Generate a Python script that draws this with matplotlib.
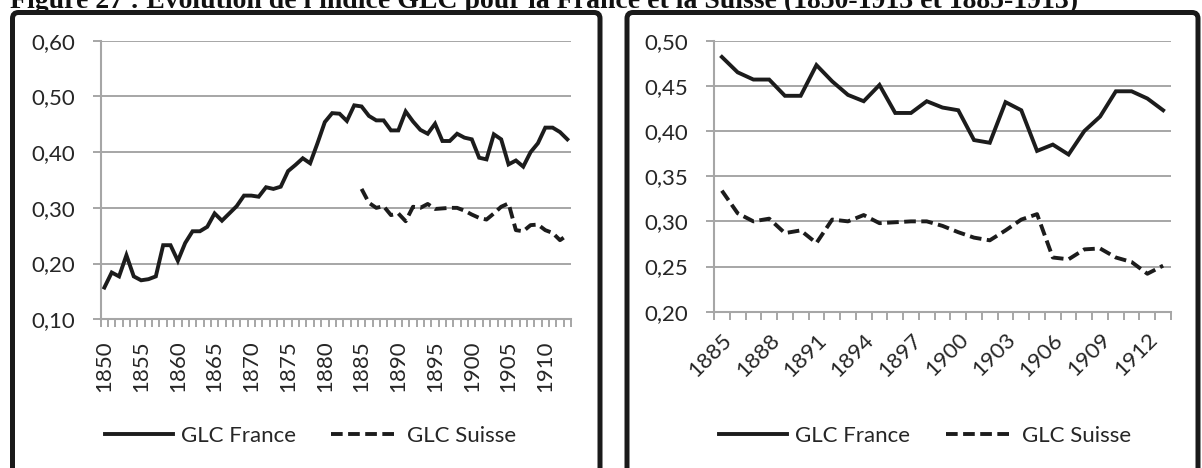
import matplotlib
matplotlib.use("Agg")
import matplotlib.pyplot as plt
from matplotlib.patches import FancyBboxPatch
from matplotlib.ticker import FuncFormatter, FixedLocator
import numpy as np

# ---------------- data ----------------
years_all = list(range(1850, 1914))
glc_france = [0.157, 0.184, 0.177, 0.215, 0.177, 0.170, 0.172, 0.177, 0.233, 0.233,
              0.205, 0.237, 0.258, 0.258, 0.266, 0.290, 0.277, 0.290, 0.303, 0.322,
              0.322, 0.320, 0.337, 0.334, 0.338, 0.366, 0.377, 0.389, 0.380, 0.416,
              0.454, 0.470, 0.469, 0.456, 0.484, 0.482, 0.465, 0.457, 0.457, 0.439,
              0.439, 0.473, 0.455, 0.440, 0.433, 0.451, 0.420, 0.420, 0.433, 0.426,
              0.423, 0.390, 0.387, 0.432, 0.423, 0.378, 0.385, 0.374, 0.400, 0.416,
              0.444, 0.444, 0.436, 0.423]
years_ch = list(range(1885, 1914))
glc_suisse = [0.334, 0.309, 0.300, 0.303, 0.287, 0.290, 0.276, 0.302, 0.300, 0.307,
              0.298, 0.299, 0.300, 0.300, 0.295, 0.288, 0.282, 0.279, 0.290, 0.302,
              0.308, 0.260, 0.258, 0.269, 0.270, 0.260, 0.255, 0.242, 0.251]
left_yticks = [0.10, 0.20, 0.30, 0.40, 0.50, 0.60]
right_yticks = [0.20, 0.25, 0.30, 0.35, 0.40, 0.45, 0.50]
left_xlabels = [1850, 1855, 1860, 1865, 1870, 1875, 1880, 1885, 1890, 1895, 1900, 1905, 1910]
right_xlabels = [1885, 1888, 1891, 1894, 1897, 1900, 1903, 1906, 1909, 1912]
title = "Figure 27 : Évolution de l'indice GLC pour la France et la Suisse (1850-1913 et 1885-1913)"
label_fr = "GLC France"
label_ch = "GLC Suisse"

# ---------------- style ----------------
W, H = 1202, 468
plt.rcParams['font.family'] = ['Lato', 'DejaVu Sans']
FS = 16
LINE_C = '#1c1c1c'
GRID_C = '#a6a6a6'
TXT_C = '#262626'
LW = 2.8
DASH = (3.0, 1.4)

fig = plt.figure(figsize=(W / 100, H / 100), dpi=100)

def fx(px):
    return px / W

def fy(py):
    return 1 - py / H

comma = FuncFormatter(lambda v, p: f"{v:.2f}".replace('.', ','))


def style_axes(ax, n, yticks, xlabels, years, rot):
    ax.set_xlim(-0.5, n - 0.5)
    ax.set_ylim(yticks[0], yticks[-1])
    ax.set_yticks(yticks)
    ax.yaxis.set_major_formatter(comma)
    ax.grid(axis='y', color=GRID_C, linewidth=1.4)
    ax.set_axisbelow(True)
    for s in ['top', 'right']:
        ax.spines[s].set_visible(False)
    for s in ['left', 'bottom']:
        ax.spines[s].set_color(GRID_C)
        ax.spines[s].set_linewidth(1.5)
    ax.tick_params(axis='y', length=5.8, width=1.4, color=GRID_C, pad=12.5,
                   labelsize=FS, labelcolor=TXT_C)
    # minor ticks at category boundaries
    ax.xaxis.set_minor_locator(FixedLocator(np.arange(-0.5, n, 1.0)))
    ax.tick_params(axis='x', which='minor', length=5.5, width=1.4, color=GRID_C)
    pos = [years.index(y) for y in xlabels]
    ax.set_xticks(pos)
    ax.set_xticklabels([str(y) for y in xlabels])
    if rot == 90:
        ax.tick_params(axis='x', which='major', length=0, pad=15,
                       labelsize=FS, labelcolor=TXT_C, labelrotation=90)
    else:
        ax.tick_params(axis='x', which='major', length=0, pad=13,
                       labelsize=FS, labelcolor=TXT_C)
        for lab in ax.get_xticklabels():
            lab.set_rotation(45)
            lab.set_ha('right')
            lab.set_va('top')
            lab.set_rotation_mode('anchor')


# ---------------- left chart ----------------
axL = fig.add_axes([fx(100.7), fy(319.3), fx(571 - 100.7), (319.3 - 40.7) / H])
xL = np.arange(len(years_all))
axL.plot(xL, glc_france, color=LINE_C, lw=LW, solid_joinstyle='miter', label=label_fr)
off = years_all.index(years_ch[0])
l2, = axL.plot(xL[off:off + len(glc_suisse)], glc_suisse, color=LINE_C, lw=LW,
               label=label_ch)
l2.set_dashes(DASH)
style_axes(axL, len(years_all), left_yticks, left_xlabels, years_all, 90)

# ---------------- right chart ----------------
axR = fig.add_axes([fx(714), fy(311.7), fx(1171 - 714), (311.7 - 40.7) / H])
xR = np.arange(len(years_ch))
i0 = years_all.index(years_ch[0])
axR.plot(xR, glc_france[i0:], color=LINE_C, lw=LW, solid_joinstyle='miter', label=label_fr)
l4, = axR.plot(xR, glc_suisse, color=LINE_C, lw=LW, label=label_ch)
l4.set_dashes(DASH)
style_axes(axR, len(years_ch), right_yticks, right_xlabels, years_ch, 45)

# ---------------- legends ----------------
for ax, cx in [(axL, 310.5), (axR, 925)]:
    leg = fig.legend(*ax.get_legend_handles_labels(), loc='center',
                     bbox_to_anchor=(fx(cx), fy(436)), ncol=2, frameon=False,
                     fontsize=FS, handlelength=3.06, handletextpad=0.36,
                     columnspacing=1.6, borderpad=0)
    for t in leg.get_texts():
        t.set_color(TXT_C)

# ---------------- boxes ----------------
for x0, x1 in [(12.5, 600), (627, 1198)]:
    box = FancyBboxPatch((x0 / 100, -0.5), (x1 - x0) / 100, (H - 12.5) / 100 + 0.5,
                         boxstyle="round,pad=0,rounding_size=0.06",
                         transform=fig.dpi_scale_trans, facecolor='none',
                         edgecolor='#1a1a1a', linewidth=3.6, zorder=10)
    fig.patches.append(box)

# ---------------- title (cut at top) ----------------
fig.text(fx(10), fy(7.5), title, family='Liberation Serif', fontweight='bold',
         fontsize=20, va='baseline', ha='left', color='#111111')

fig.savefig('out.png', dpi=100)
